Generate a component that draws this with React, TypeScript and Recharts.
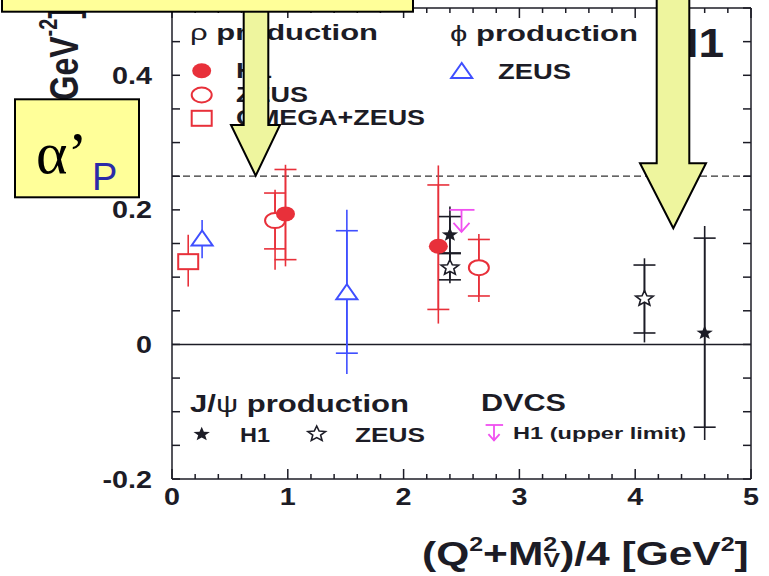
import { ScatterChart, Scatter, XAxis, YAxis, ErrorBar, ReferenceLine } from "recharts";

// errors are [down, up]; stat = inner caps, tot = full line
const rhoH1 = [
  { x: 0.98, y: 0.194, stat: [0.068, 0.066], tot: [0.078, 0.073] },
  { x: 2.3, y: 0.146, stat: [0.094, 0.091], tot: [0.115, 0.12] },
];
const rhoZEUS = [
  { x: 0.89, y: 0.184, stat: [0.042, 0.041], tot: [0.073, 0.046] },
  { x: 2.65, y: 0.114, stat: [0.042, 0.042], tot: [0.051, 0.05] },
];
const rhoOmega = [{ x: 0.14, y: 0.123, stat: null, tot: [0.037, 0.04] }];
const phiZEUS = [
  { x: 0.26, y: 0.156, stat: null, tot: [0.028, 0.029] },
  { x: 1.51, y: 0.076, stat: [0.089, 0.093], tot: [0.12, 0.124] },
];
const jpsiH1 = [
  { x: 2.4, y: 0.163, stat: [0.028, 0.027], tot: [0.035, 0.042] },
  { x: 4.6, y: 0.017, stat: [0.14, 0.141], tot: [0.159, 0.159] },
];
const jpsiZEUS = [
  { x: 2.4, y: 0.114, stat: [0.018, 0.022], tot: [0.023, 0.025] },
  { x: 4.08, y: 0.068, stat: [0.051, 0.05], tot: [0.065, 0.06] },
];
const dvcsH1 = [{ x: 2.5, y: 0.2 }]; // upper limit

const xTicks = [0, 0.2, 0.4, 0.6, 0.8, 1, 1.2, 1.4, 1.6, 1.8, 2, 2.2, 2.4, 2.6, 2.8, 3, 3.2, 3.4, 3.6, 3.8, 4, 4.2, 4.4, 4.6, 4.8, 5];
const xLabels = [0, 1, 2, 3, 4, 5];
const yTicks = [-0.2, -0.15, -0.1, -0.05, 0, 0.05, 0.1, 0.15, 0.2, 0.25, 0.3, 0.35, 0.4, 0.45, 0.5];
const yLabels = [-0.2, 0, 0.2, 0.4];
const alphaRef = 0.25;

const W = 769;
const H = 576;
const L = 172;
const R = 751;
const T = 8;
const B = 479;
const SX = 1.25;
const INK = "#1c1c26";
const RED = "#e8303a";
const BLUE = "#3f4fff";
const MAG = "#f050f0";
const SANS = "'Liberation Sans', Arial, sans-serif";

const starPts = (cx: number, cy: number, ro: number, ri: number) => {
  const pts: string[] = [];
  for (let i = 0; i < 10; i++) {
    const a = ((-90 + i * 36) * Math.PI) / 180;
    const r = i % 2 ? ri : ro;
    pts.push(`${cx + 1.15 * r * Math.cos(a)},${cy + r * Math.sin(a)}`);
  }
  return pts.join(" ");
};

const FullDot = ({ cx, cy }: any) => <ellipse cx={cx} cy={cy} rx={9.5} ry={7.5} fill={RED} />;
const OpenDot = ({ cx, cy }: any) => (
  <ellipse cx={cx} cy={cy} rx={10} ry={7.5} fill="#fff" stroke={RED} strokeWidth={2} />
);
const OpenSquare = ({ cx, cy }: any) => (
  <rect x={cx - 10} y={cy - 7.5} width={20} height={15} fill="#fff" stroke={RED} strokeWidth={2} />
);
const OpenTri = ({ cx, cy }: any) => (
  <polygon points={`${cx},${cy - 9} ${cx - 10.5},${cy + 6} ${cx + 10.5},${cy + 6}`} fill="#fff" stroke={BLUE} strokeWidth={2} />
);
const FullStar = ({ cx, cy }: any) => <polygon points={starPts(cx, cy, 7.5, 3.2)} fill={INK} />;
const OpenStar = ({ cx, cy }: any) => (
  <polygon points={starPts(cx, cy, 8, 3.6)} fill="#fff" stroke={INK} strokeWidth={1.6} />
);
const Limit = ({ cx, cy, s = 1 }: any) => (
  <g stroke={MAG} strokeWidth={1.8} fill="none">
    <line x1={cx - 12 * s} x2={cx + 13 * s} y1={cy} y2={cy} />
    <line x1={cx} x2={cx} y1={cy} y2={cy + 22 * s} />
    <polyline points={`${cx - 8 * s},${cy + 13 * s} ${cx},${cy + 22 * s} ${cx + 8 * s},${cy + 13 * s}`} />
  </g>
);

const Txt = ({ x, y, size, w, anchor = "start", sx = SX, fill = INK, weight = 700, children }: any) => (
  <text
    transform={`translate(${x},${y}) scale(${sx},1)`}
    fontSize={size}
    fontWeight={weight}
    fill={fill}
    textAnchor={anchor}
    fontFamily={SANS}
    textLength={w ? w / sx : undefined}
    lengthAdjust={w ? "spacingAndGlyphs" : undefined}
  >
    {children}
  </text>
);

const YTick = (p: any) => {
  const y = p.y;
  const v = p.payload.value;
  return (
    <g>
      <line x1={L} x2={L + 8} y1={y} y2={y} stroke={INK} strokeWidth={1.5} />
      <line x1={R - 8} x2={R} y1={y} y2={y} stroke={INK} strokeWidth={1.5} />
      {yLabels.includes(v) && (
        <Txt x={152} y={y + 8.5} size={23} anchor="end">
          {String(v)}
        </Txt>
      )}
    </g>
  );
};

const XTick = (p: any) => {
  const x = p.x;
  const v = p.payload.value;
  const major = xLabels.includes(v);
  const len = major ? 10 : 5;
  return (
    <g>
      <line x1={x} x2={x} y1={B} y2={B - len} stroke={INK} strokeWidth={1.5} />
      <line x1={x} x2={x} y1={T} y2={T + len} stroke={INK} strokeWidth={1.5} />
      {major && (
        <Txt x={x} y={505} size={23} anchor="middle">
          {String(v)}
        </Txt>
      )}
    </g>
  );
};

const series = (data: any[], shape: any, color: string, name: string) => (
  <Scatter key={name} name={name} data={data} shape={shape} isAnimationActive={false}>
    <ErrorBar dataKey="tot" direction="y" width={0} stroke={color} strokeWidth={1.6} />
    <ErrorBar dataKey="stat" direction="y" width={11} stroke={color} strokeWidth={1.6} />
  </Scatter>
);

const Overlay = () => (
  <svg width={W} height={H} style={{ position: "absolute", left: 0, top: 0, pointerEvents: "none" }}>
    {/* y axis title, mostly hidden under the box */}
    <text
      transform="translate(78,8) scale(1.25,1) rotate(-90)"
      fontSize={32}
      fontWeight={700}
      fill={INK}
      fontFamily={SANS}
      textAnchor="end"
    >
      [GeV
      <tspan dy={-17} fontSize={20}>
        -2
      </tspan>
      <tspan dy={17}>]</tspan>
    </text>

    {/* top legends */}
    <Txt x={190} y={40} size={22} w={188}>
      <tspan fontWeight={400}>ρ</tspan> production
    </Txt>
    <Txt x={450} y={41} size={22} w={188}>
      <tspan fontWeight={400}>ϕ</tspan> production
    </Txt>
    <FullDot cx={201.7} cy={70.7} />
    <OpenDot cx={201.7} cy={95} />
    <OpenSquare cx={201.7} cy={118.3} />
    <Txt x={236} y={78} size={22} w={36}>H1</Txt>
    <Txt x={236} y={101.7} size={22} w={72}>ZEUS</Txt>
    <Txt x={236} y={125} size={22} w={189}>OMEGA+ZEUS</Txt>
    <OpenTri cx={461.7} cy={72} />
    <Txt x={498} y={79} size={22} w={73}>ZEUS</Txt>
    <Txt x={724} y={57} size={40} anchor="end" sx={1.15}>H1</Txt>

    {/* bottom legends */}
    <Txt x={190} y={411.7} size={23} w={219}>
      J/<tspan fontWeight={400}>ψ</tspan> production
    </Txt>
    <Txt x={481} y={411} size={23} w={85}>DVCS</Txt>
    <FullStar cx={201.7} cy={434.3} />
    <Txt x={240} y={441.7} size={21} w={30}>H1</Txt>
    <OpenStar cx={316.7} cy={434} />
    <Txt x={355} y={441.7} size={21} w={70}>ZEUS</Txt>
    <Limit cx={494} cy={425} s={0.7} />
    <Txt x={513} y={439} size={17} w={173}>H1 (upper limit)</Txt>

    {/* x axis title */}
    <text transform="translate(422,565) scale(1.25,1)" fontSize={34} fontWeight={700} fill={INK} fontFamily={SANS}>
      (Q
      <tspan dy={-14} fontSize={20}>2</tspan>
      <tspan dy={14}>+M</tspan>
      <tspan dy={-14} fontSize={20}>2</tspan>
      <tspan dx={-11} dy={16} fontSize={20}>V</tspan>
      <tspan dy={-2}>)/4 [GeV</tspan>
      <tspan dy={-14} fontSize={20}>2</tspan>
      <tspan dy={14}>]</tspan>
    </text>

    {/* slide annotations */}
    <polygon
      points="243.7,5 268.3,5 268.3,125 280,125 255.7,175.7 231,125 243.7,125"
      fill="#eef59e"
      stroke="#000"
      strokeWidth={2}
    />
    <polygon
      points="656.7,-5 689.3,-5 689.3,163.3 706,163.3 673.3,228.3 640,163.3 656.7,163.3"
      fill="#eef59e"
      stroke="#000"
      strokeWidth={2}
    />
    <rect x={2} y={-10} width={411} height={21.7} fill="#ffff99" stroke="#000" strokeWidth={2} />
    <rect x={15} y={99.3} width={124} height={98} fill="#ffff99" stroke="#000" strokeWidth={2} />
    <text x={36} y={173} fontSize={60} fontFamily="'Liberation Serif', 'DejaVu Serif', serif" fill="#000">
      α’
    </text>
    <text x={92} y={190} fontSize={38} fontFamily={SANS} fill="#2b2ba8">
      P
    </text>
  </svg>
);

export default function App() {
  return (
    <div style={{ position: "absolute", left: 0, top: 0, width: W, height: H, background: "#fff" }}>
      <ScatterChart width={W} height={H} margin={{ top: T, right: W - R, bottom: 0, left: 0 }}>
        <XAxis
          type="number"
          dataKey="x"
          domain={[0, 5]}
          ticks={xTicks}
          interval={0}
          tick={XTick}
          tickLine={false}
          axisLine={{ stroke: INK, strokeWidth: 1.5 }}
          height={H - B}
          allowDataOverflow
        />
        <YAxis
          type="number"
          dataKey="y"
          domain={[-0.2, 0.5]}
          ticks={yTicks}
          interval={0}
          tick={YTick}
          tickLine={false}
          axisLine={{ stroke: INK, strokeWidth: 1.5 }}
          width={L}
          allowDataOverflow
        />
        <ReferenceLine x={5} stroke={INK} strokeWidth={1.5} />
        <ReferenceLine y={0.5} stroke={INK} strokeWidth={1.5} />
        <ReferenceLine y={alphaRef} stroke="#333" strokeWidth={1.2} strokeDasharray="7 4" />
        <ReferenceLine y={0} stroke={INK} strokeWidth={1.5} />
        {series(rhoOmega, OpenSquare, RED, "omega")}
        {series(phiZEUS, OpenTri, BLUE, "phiZEUS")}
        {series(rhoZEUS, OpenDot, RED, "rhoZEUS")}
        {series(rhoH1, FullDot, RED, "rhoH1")}
        {series(jpsiH1, FullStar, INK, "jpsiH1")}
        {series(jpsiZEUS, OpenStar, INK, "jpsiZEUS")}
        <Scatter name="dvcs" data={dvcsH1} shape={(p: any) => <Limit cx={p.cx} cy={p.cy} />} isAnimationActive={false} />
      </ScatterChart>
      <Overlay />
    </div>
  );
}
